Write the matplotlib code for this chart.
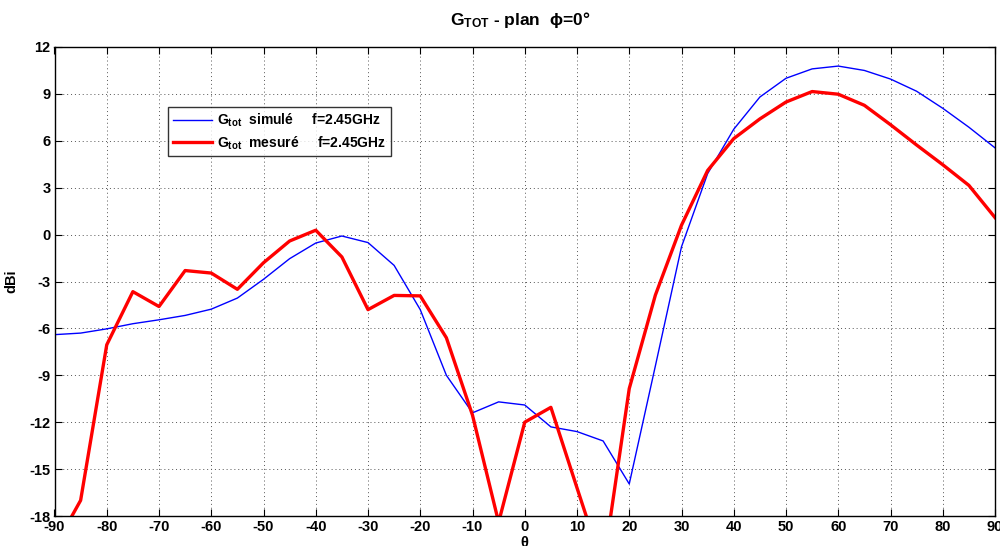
import matplotlib
matplotlib.use("Agg")
import matplotlib.pyplot as plt
import numpy as np

theta = list(range(-90, 95, 5))
g_sim = [-6.4, -6.3, -6.03, -5.7, -5.45, -5.17, -4.77, -4.06, -2.86, -1.54,
         -0.54, -0.09, -0.51, -1.97, -4.8, -9.0, -11.4, -10.7, -10.9, -12.3,
         -12.6, -13.2, -15.95, -8.4, -0.78, 3.9, 6.74, 8.8, 10.0, 10.6,
         10.78, 10.5, 9.95, 9.17, 8.08, 6.87, 5.55]
g_mes = [-20.0, -17.0, -7.05, -3.65, -4.6, -2.3, -2.46, -3.5, -1.8, -0.41,
         0.28, -1.43, -4.8, -3.89, -3.92, -6.6, -11.55, -18.4, -12.0, -11.05,
         -16.2, -21.3, -9.85, -3.87, 0.6, 4.1, 6.14, 7.4, 8.48, 9.15,
         8.98, 8.27, 7.03, 5.73, 4.47, 3.15, 1.09]
xticks = list(range(-90, 91, 10))
yticks = list(range(-18, 13, 3))

FAM = ["Liberation Sans", "DejaVu Sans"]
plt.rcParams["font.family"] = FAM
plt.rcParams["font.weight"] = "bold"
plt.rcParams["axes.unicode_minus"] = False
plt.rcParams["mathtext.fontset"] = "custom"
plt.rcParams["mathtext.rm"] = "Liberation Sans:bold"
plt.rcParams["mathtext.it"] = "Liberation Sans:bold"
plt.rcParams["mathtext.bf"] = "Liberation Sans:bold"

fig = plt.figure(figsize=(10, 5.46), dpi=100)
ax = fig.add_axes([0.0545, 1 - 516 / 546, 0.9405, 469 / 546])

ax.plot(theta, g_sim, color="#0000ff", lw=1.0, label=r"$\mathrm{G_{tot}}$  simulé     f=2.45GHz")
ax.plot(theta, g_mes, color="#ff0000", lw=2.4, label=r"$\mathrm{G_{tot}}$  mesuré     f=2.45GHz")

ax.set_xlim(-90, 90)
ax.set_ylim(-18, 12)
ax.set_xticks(xticks)
ax.set_yticks(yticks)
ax.tick_params(direction="in", length=5, width=0.8, top=True, right=True,
               labelsize=10.5, pad=3)
for lab in ax.get_xticklabels() + ax.get_yticklabels():
    lab.set_fontweight("bold")
ax.grid(True, linestyle=(0, (1, 3)), color="#555555", linewidth=0.7)
for s in ax.spines.values():
    s.set_linewidth(1.0)
    s.set_color("black")

ax.set_xlabel("θ", fontsize=10.5, fontweight="bold", labelpad=1)
ax.set_ylabel("dBi", fontsize=10.5, fontweight="bold", labelpad=8)
fig.text(0.52, 1 - 20 / 546, r"$\mathrm{G_{TOT}}$ - plan  ϕ=0°", ha="center", va="center",
         fontsize=12.5, fontweight="bold", family=FAM)

leg = ax.legend(loc="upper left", bbox_to_anchor=(0.1207, 0.872), fontsize=10,
                frameon=True, fancybox=False, edgecolor="black", handlelength=2.8,
                borderpad=0.35, labelspacing=0.35, handletextpad=0.4, borderaxespad=0)
leg.get_frame().set_linewidth(1.0)
for t in leg.get_texts():
    t.set_fontweight("bold")

fig.savefig("out.png", dpi=100)
